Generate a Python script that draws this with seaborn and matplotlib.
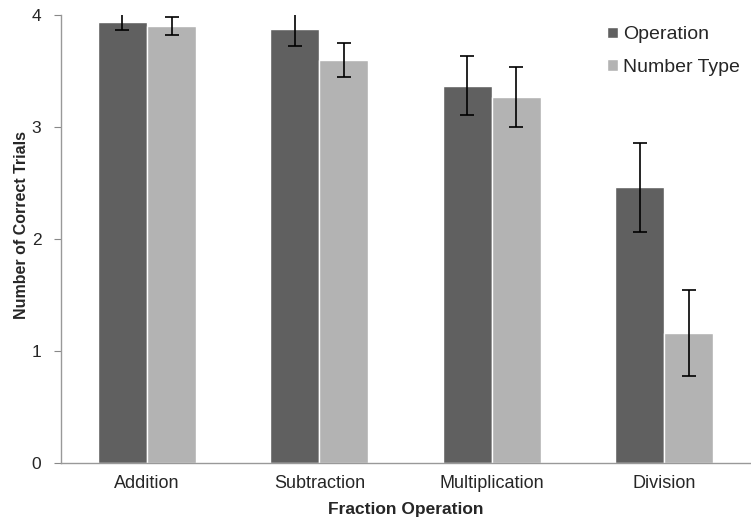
import pandas as pd
import numpy as np
import matplotlib
matplotlib.use('Agg')
import matplotlib.pyplot as plt
import seaborn as sns

# data
operations = ['Addition', 'Subtraction', 'Multiplication', 'Division']
conditions = ['Operation', 'Number Type']
op_means = [3.94, 3.875, 3.37, 2.46]
op_err = [0.07, 0.155, 0.26, 0.40]
nt_means = [3.90, 3.60, 3.27, 1.16]
nt_err = [0.08, 0.155, 0.27, 0.385]

df = pd.DataFrame({
    'operation': operations * 2,
    'condition': ['Operation'] * 4 + ['Number Type'] * 4,
    'trials': op_means + nt_means,
})
errs = {'Operation': op_err, 'Number Type': nt_err}

sns.set_style('white')
plt.rcParams['font.family'] = ['Liberation Sans', 'DejaVu Sans']

fig, ax = plt.subplots(figsize=(7.51, 5.20), dpi=100)
fig.subplots_adjust(left=0.081, right=0.999, top=0.971, bottom=0.11)

sns.barplot(data=df, x='operation', y='trials', hue='condition',
            order=operations, hue_order=conditions,
            palette=['#606060', '#b3b3b3'], errorbar=None,
            width=0.57, saturation=1, ax=ax)

# error bars on top of each bar
for cont, cond in zip(ax.containers, conditions):
    xs = [p.get_x() + p.get_width() / 2 for p in cont.patches]
    ys = [p.get_height() for p in cont.patches]
    ax.errorbar(xs, ys, yerr=errs[cond], fmt='none', ecolor='black',
                elinewidth=1.2, capsize=5, capthick=1.2)

ax.set_ylim(0, 4)
ax.set_xlim(-0.5, 3.5)
ax.set_yticks([0, 1, 2, 3, 4])
ax.set_yticklabels(['0', '1', '2', '3', '4'], fontsize=12.5)

# category-boundary ticks like the original
ax.set_xticks(np.arange(-0.5, 4.0, 1.0), minor=True)
ax.tick_params(axis='x', which='major', length=0, labelsize=13, pad=9)
ax.tick_params(axis='x', which='minor', length=5, color='#888888', direction='out')
ax.tick_params(axis='y', length=5, color='#888888', direction='out', left=True, pad=9)

for s in ['top', 'right']:
    ax.spines[s].set_visible(False)
for s in ['left', 'bottom']:
    ax.spines[s].set_color('#999999')
    ax.spines[s].set_linewidth(1)

ax.set_xlabel('Fraction Operation', fontsize=12.5, fontweight='bold')
ax.set_ylabel('Number of Correct Trials', fontsize=11.5, fontweight='bold')
ax.xaxis.set_label_coords(0.5, -0.088)
ax.yaxis.set_label_coords(-0.046, 0.531)

leg = ax.legend(loc='upper left', bbox_to_anchor=(0.792, 0.975), frameon=False,
                fontsize=14, handlelength=0.55, handleheight=0.55,
                handletextpad=0.3, labelspacing=0.8, borderaxespad=0,
                borderpad=0)

fig.savefig('out.png', dpi=100)
